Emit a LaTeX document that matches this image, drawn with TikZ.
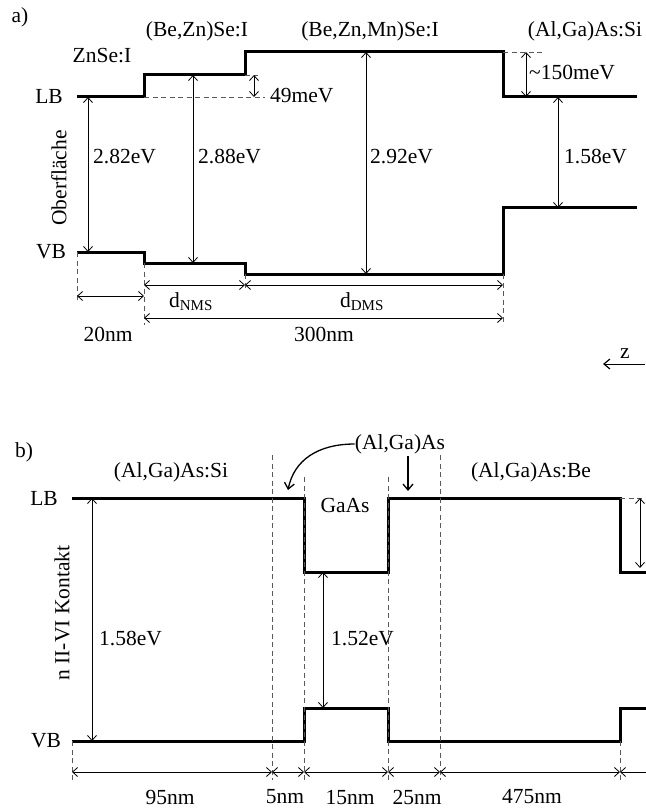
\documentclass[tikz,border=0pt]{standalone}
\usepackage{fontspec}
\setmainfont{Liberation Serif}
\usetikzlibrary{arrows.meta}
\begin{document}
\begin{tikzpicture}[x=1pt,y=-1pt,
  band/.style={line width=3pt},
  guide/.style={gray!70!black, line width=0.8pt, dash pattern=on 5pt off 3.5pt},
  gap/.style={line width=0.8pt, {Straight Barb[length=5pt,width=9pt]}-{Straight Barb[length=5pt,width=9pt]}},
  dimR/.style={line width=0.8pt, {Straight Barb[length=5pt,width=9pt]}-},
  bold arrow/.style={line width=1.3pt, -{Straight Barb[length=6pt,width=10pt,line width=1.3pt]}},
  lbl/.style={font=\fontsize{21.5}{24}\selectfont, inner sep=0pt},
]
\useasboundingbox (0,0) rectangle (645,810);

% ================= part a =================
\node[lbl] (alabel) at (20,17) {a)};
\node[lbl] (lbA) at (49,96) {LB};
\node[lbl] (vbA) at (51,252) {VB};
\node[lbl, rotate=90] (surf) at (59,178) {Oberfläche};

\node[lbl] (m1) at (102,56) {ZnSe:I};
\node[lbl] (m2) at (197,31) {(Be,Zn)Se:I};
\node[lbl] (m3) at (370,31) {(Be,Zn,Mn)Se:I};
\node[lbl] (m4) at (585,31) {(Al,Ga)As:Si};

% band corners
\coordinate (cA1) at (77,97);
\coordinate (cA2) at (144,75);
\coordinate (cA3) at (245,52);
\coordinate (cA4) at (503,97);
\coordinate (cA5) at (637,97);
\coordinate (vA1) at (77,252);
\coordinate (vA2) at (144,263);
\coordinate (vA3) at (245,274);
\coordinate (vA4) at (503,208);
\coordinate (vA5) at (637,208);

\draw[band] (cA1) -| (cA2) -| (cA3) -| (cA4) -- (cA5);
\draw[band] (vA1) -| (vA2) -| (vA3) -| (vA4) -- (vA5);

% offsets
\draw[guide] (144,97) -- (265,97);
\draw[guide] (245,75) -- (258,75);
\draw[gap] (254,75) -- (254,97);
\node[lbl, anchor=west] (o1) at (270,96) {49meV};
\draw[guide] (503,52) -- (543,52);
\draw[gap] (526,52) -- (526,97);
\node[lbl, anchor=west] (o2) at (529,73) {\textasciitilde150meV};

% gaps
\draw[gap] (88,97) -- (88,252);
\node[lbl, anchor=west] (g1) at (93,157) {2.82eV};
\draw[gap] (193,75) -- (193,263);
\node[lbl, anchor=west] (g2) at (198,157) {2.88eV};
\draw[gap] (366,52) -- (366,274);
\node[lbl, anchor=west] (g3) at (370,157) {2.92eV};
\draw[gap] (558,97) -- (558,208);
\node[lbl, anchor=west] (g4) at (564,157) {1.58eV};

% dimension guides
\draw[guide] (77,252) -- (77,302);
\draw[guide] (144,263) -- (144,325);
\draw[guide] (245,274) -- (245,290);
\draw[guide] (503,274) -- (503,325);
\draw[gap] (77,296) -- (144,296);
\draw[gap] (144,285) -- (245,285);
\draw[gap] (245,285) -- (503,285);
\draw[gap] (144,318) -- (503,318);
\node[lbl] (d1) at (108,334) {20nm};
\node[lbl] (d2) at (191,302) {d\textsubscript{NMS}};
\node[lbl] (d3) at (362,302) {d\textsubscript{DMS}};
\node[lbl] (d4) at (324,334) {300nm};

% z axis
\coordinate (zs) at (645,364);
\coordinate (ze) at (603,364);
\draw[line width=1pt, -{Straight Barb[length=6pt,width=10pt,line width=1.2pt]}] (zs) -- (ze);
\node[lbl] (zl) at (625,354) {z};

% ================= part b =================
\node[lbl] (blabel) at (24,452) {b)};
\node[lbl] (lbB) at (44,498) {LB};
\node[lbl] (vbB) at (46,741) {VB};
\node[lbl, rotate=90] (contact) at (62,613) {n II-VI Kontakt};

\node[lbl] (n1) at (171,472) {(Al,Ga)As:Si};
\node[lbl] (n2) at (345,505) {GaAs};
\node[lbl] (n3) at (400,444) {(Al,Ga)As};
\node[lbl] (n4) at (531,472) {(Al,Ga)As:Be};

\coordinate (cB1) at (72,498);
\coordinate (cB2) at (304,572);
\coordinate (cB3) at (388,498);
\coordinate (cB4) at (620,572);
\coordinate (cB5) at (648,572);
\coordinate (vB1) at (72,741);
\coordinate (vB2) at (304,708);
\coordinate (vB3) at (388,741);
\coordinate (vB4) at (620,708);
\coordinate (vB5) at (648,708);

\draw[band] (cB1) -| (cB2) -| (cB3) -| (cB4) -- (cB5);
\draw[band] (vB1) -| (vB2) -| (vB3) -| (vB4) -- (vB5);

% layer boundaries
\draw[guide] (72,741) -- (72,780);
\draw[guide] (272,455) -- (272,780);
\draw[guide] (304,477) -- (304,780);
\draw[guide] (388,477) -- (388,780);
\draw[guide] (440,455) -- (440,780);
\draw[guide] (620,741) -- (620,780);

% gaps
\draw[gap] (92,498) -- (92,741);
\node[lbl, anchor=west] (h1) at (99,639) {1.58eV};
\draw[gap] (323,572) -- (323,708);
\node[lbl, anchor=west] (h2) at (331,639) {1.52eV};
\draw[guide] (620,498) -- (648,498);
\draw[gap] (640,498) -- (640,568);

% pointers
\draw[bold arrow] (n3.west) .. controls (318,444) and (294,460) .. (288,490);
\draw[bold arrow] (408,456) -- (408,491);

% dimensions
\draw[gap] (72,772) -- (272,772);
\draw[gap] (272,772) -- (304,772);
\draw[gap] (304,772) -- (388,772);
\draw[gap] (388,772) -- (440,772);
\draw[gap] (440,772) -- (620,772);
\draw[dimR] (620,772) -- (648,772);
\node[lbl] (w1) at (170,797) {95nm};
\node[lbl] (w2) at (285,797) {5nm};
\node[lbl] (w3) at (350,797) {15nm};
\node[lbl] (w4) at (417,797) {25nm};
\node[lbl] (w5) at (532,797) {475nm};
\end{tikzpicture}
\end{document}
